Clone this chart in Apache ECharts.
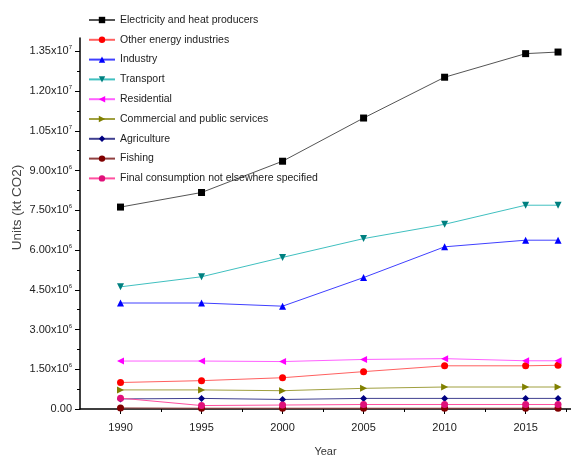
<!DOCTYPE html>
<html><head><meta charset="utf-8">
<script src="https://cdn.jsdelivr.net/npm/echarts@6/dist/echarts.min.js"></script>
<style>html,body{margin:0;padding:0;background:#fff}#c{width:571px;height:457px}</style>
</head><body><div id="c"></div>
<script>
var years = [1990, 1995, 2000, 2005, 2010, 2015, 2017];
var seriesNames = ['Electricity and heat producers','Other energy industries','Industry','Transport','Residential','Commercial and public services','Agriculture','Fishing','Final consumption not elsewhere specified'];
var electricity = [7.62e6, 8.17e6, 9.35e6, 10.98e6, 12.52e6, 13.41e6, 13.47e6];
var otherEnergy = [1.00e6, 1.07e6, 1.18e6, 1.41e6, 1.63e6, 1.63e6, 1.65e6];
var industry = [4.00e6, 4.00e6, 3.88e6, 4.96e6, 6.12e6, 6.37e6, 6.37e6];
var transport = [4.61e6, 4.99e6, 5.72e6, 6.43e6, 6.97e6, 7.69e6, 7.69e6];
var residential = [1.81e6, 1.81e6, 1.79e6, 1.87e6, 1.90e6, 1.82e6, 1.82e6];
var commercial = [0.72e6, 0.72e6, 0.69e6, 0.78e6, 0.83e6, 0.83e6, 0.83e6];
var agriculture = [0.38e6, 0.40e6, 0.36e6, 0.40e6, 0.40e6, 0.40e6, 0.40e6];
var fishing = [0.04e6, 0.03e6, 0.03e6, 0.03e6, 0.03e6, 0.03e6, 0.03e6];
var finalConsumption = [0.41e6, 0.13e6, 0.15e6, 0.17e6, 0.17e6, 0.17e6, 0.17e6];
var yTickValues = [0, 1.5e6, 3e6, 4.5e6, 6e6, 7.5e6, 9e6, 1.05e7, 1.2e7, 1.35e7];
var yMinorTicks = [0.75e6, 2.25e6, 3.75e6, 5.25e6, 6.75e6, 8.25e6, 9.75e6, 1.125e7, 1.275e7];
var xTickValues = [1990, 1995, 2000, 2005, 2010, 2015];
var xMinorTicks = [1992.5, 1997.5, 2002.5, 2007.5, 2012.5, 2017.5];

var allValues = [electricity, otherEnergy, industry, transport, residential, commercial, agriculture, fishing, finalConsumption];
var colors = ['#000000','#ff0000','#0000ff','#008080','#ff00ff','#808000','#000080','#800000','#e0107a'];
var symbols = ['rect','circle','triangle','path://M0,0 L10,0 L5,10 Z','path://M10,0 L10,10 L0,5 Z','path://M0,0 L10,5 L0,10 Z','diamond','circle','circle'];
var lineColors = ['#555555','#ff6060','#4040ff','#40c0c0','#ff60ff','#a0a040','#404090','#904040','#ff50a0'];

function fmtY(v){
  if (v === 0) return '{a|0.00}';
  var e = Math.floor(Math.log10(v) + 1e-9);
  var m = v / Math.pow(10, e);
  return '{a|' + m.toFixed(2) + 'x10}{s|' + e + '}';
}

var series = allValues.map(function(vals, i){
  return {
    name: seriesNames[i], type: 'line', xAxisIndex: 0, yAxisIndex: 0,
    data: years.map(function(y, j){ return [y, vals[j]]; }),
    symbol: symbols[i], symbolSize: 7, showAllSymbol: true,
    itemStyle: {color: colors[i]},
    lineStyle: {color: lineColors[i], width: 1},
    animation: false
  };
});

var chart = echarts.init(document.getElementById('c'));
chart.setOption({
  animation: false,
  backgroundColor: '#fff',
  grid: {left: 80, right: 0, top: 38, bottom: 48, containLabel: false, outerBoundsMode: 'none'},
  legend: {
    orient: 'vertical', left: 88, top: 14, padding: 0,
    itemWidth: 26, itemHeight: 8, itemGap: 7.8,
    textStyle: {fontFamily: 'Liberation Sans', fontSize: 10.5, color: '#222', lineHeight: 12},
    data: seriesNames
  },
  xAxis: [{
    type: 'value', min: 1987.5, max: 2017.8,
    name: 'Year', nameLocation: 'middle', nameGap: 37, nameMoveOverlap: false,
    nameTextStyle: {fontFamily: 'Liberation Sans', fontSize: 11, color: '#333'},
    axisLine: {show: true, lineStyle: {color: '#000', width: 1.5}},
    axisTick: {show: true, customValues: xTickValues, length: 5, inside: false, lineStyle: {color: '#000'}},
    axisLabel: {customValues: xTickValues, margin: 13, fontFamily: 'Liberation Sans', fontSize: 11, color: '#222', formatter: function(v){return String(v);}},
    splitLine: {show: false}
  },{
    type: 'value', min: 1987.5, max: 2017.8, position: 'bottom',
    axisLine: {show: false},
    axisTick: {show: true, customValues: xMinorTicks, length: 3, lineStyle: {color: '#000'}},
    axisLabel: {show: false}, splitLine: {show: false}
  }],
  yAxis: [{
    type: 'value', min: 0, max: 1.4e7,
    name: 'Units (kt CO2)', nameLocation: 'middle', nameGap: 56, nameMoveOverlap: false,
    nameTextStyle: {fontFamily: 'Liberation Sans', fontSize: 13.5, color: '#444', padding: [0,0,0,32]},
    axisLine: {show: true, lineStyle: {color: '#000', width: 1.5}},
    axisTick: {show: true, customValues: yTickValues, length: 5, lineStyle: {color: '#000'}},
    axisLabel: {customValues: yTickValues, margin: 8, formatter: fmtY,
      rich: {a: {fontFamily: 'Liberation Sans', fontSize: 11, color: '#222'},
             s: {fontFamily: 'Liberation Sans', fontSize: 6, color: '#222', padding: [0,0,7,0]}}},
    splitLine: {show: false}
  },{
    type: 'value', min: 0, max: 1.4e7, position: 'left',
    axisLine: {show: false},
    axisTick: {show: true, customValues: yMinorTicks, length: 3, lineStyle: {color: '#000'}},
    axisLabel: {show: false}, splitLine: {show: false}
  }],
  series: series
});
</script></body></html>
